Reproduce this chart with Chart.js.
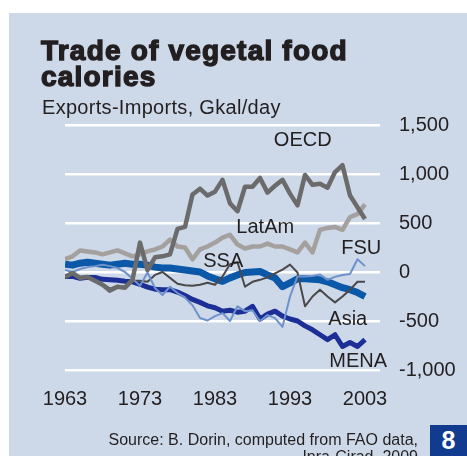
<!DOCTYPE html>
<html>
<head>
<meta charset="utf-8">
<script src="https://cdn.jsdelivr.net/npm/chart.js@4"></script>
<style>
  html, body { margin: 0; padding: 0; background: #ffffff; overflow: hidden; }
  #wrap { position: relative; width: 467px; height: 456px; overflow: hidden; }
  #panel { position: absolute; left: 9px; top: 13px; width: 458px; height: 443px; background: #cdd8e9; }
  #chart { position: absolute; left: 0; top: 0; }
  .txt { position: absolute; font-family: "Liberation Sans", Arial, sans-serif; color: #231f20; white-space: nowrap; }
  #title { left: 41px; top: 38px; font-size: 28px; line-height: 26px; font-weight: bold; letter-spacing: 1.2px; -webkit-text-stroke: 1.4px #231f20; }
  #subtitle { left: 42px; top: 97px; font-size: 20px; line-height: 20px; letter-spacing: 0.3px; }
  #source { right: 49px; top: 431px; font-size: 16px; line-height: 17px; text-align: right; }
  #pagebox { position: absolute; left: 430px; top: 425px; width: 37px; height: 31px; background: #113b8f; color: #fff;
             font-family: "Liberation Sans", Arial, sans-serif; font-weight: bold; font-size: 25px; line-height: 31px; text-align: center; }
</style>
</head>
<body>
<div id="wrap">
  <div id="panel"></div>
  <canvas id="chart" width="467" height="456"></canvas>
  <div id="title" class="txt">Trade of vegetal food<br>calories</div>
  <div id="subtitle" class="txt">Exports-Imports, Gkal/day</div>
  <div id="source" class="txt">Source: B. Dorin, computed from FAO data,<br>Inra-Cirad, 2009</div>
  <div id="pagebox">8</div>
</div>
<script>
// ---- data (Exports - Imports, Gkal/day) ----
const years = [1963,1964,1965,1966,1967,1968,1969,1970,1971,1972,
               1973,1974,1975,1976,1977,1978,1979,1980,1981,1982,
               1983,1984,1985,1986,1987,1988,1989,1990,1991,1992,
               1993,1994,1995,1996,1997,1998,1999,2000,2001,2002,2003];
const oecd  = [-50,-10,-60,-50,-90,-130,-190,-150,-160,-80,
               300,20,150,160,180,440,460,790,850,780,
               820,940,700,620,870,870,960,810,880,940,
               800,680,990,890,900,860,1020,1090,780,660,540];
const latam = [130,160,220,210,200,180,200,220,190,160,
               180,210,230,260,330,260,250,130,230,260,
               300,350,380,280,240,260,260,290,260,260,
               230,200,300,200,430,450,460,430,560,590,690];
const ssa   = [-40,-20,-55,-55,-85,-120,-170,-140,-150,-90,
               -90,-100,-30,0,-60,-120,-135,-140,-130,-110,
               -130,-45,80,100,-150,-100,-80,-55,-15,25,
               75,-5,-350,-250,-180,-250,-310,-250,-180,-100,-100];
const fsu   = [20,0,30,50,60,75,60,40,0,-70,
               -140,-5,-165,-235,-150,-215,-260,-340,-470,-495,
               -450,-420,-500,-350,-400,-390,-500,-440,-470,-560,
               -250,-45,-45,-40,-25,-80,-50,-30,-20,130,60];
const asia  = [80,70,90,100,90,80,70,80,90,80,
               80,70,50,40,40,30,20,10,0,-40,
               -70,-95,-60,-30,-5,0,5,-30,-60,-150,
               -110,-70,-70,-75,-80,-100,-130,-160,-180,-210,-250];
const mena  = [-45,-45,-65,-55,-55,-75,-80,-85,-95,-100,
               -125,-155,-175,-180,-180,-205,-240,-280,-310,-345,
               -365,-400,-390,-410,-400,-350,-480,-430,-400,-450,
               -480,-500,-550,-590,-640,-690,-640,-760,-720,-760,-690];

const xTickYears  = [1963, 1973, 1983, 1993, 2003];
const yTickValues = [-1000, -500, 0, 500, 1000, 1500];
const yTickLabels = ["-1,000", "-500", "0", "500", "1,000", "1,500"];

// series name labels, anchored in data units (year, value)
const seriesLabels = [
  { text: "OECD",  year: 1994.7, value: 1346 },
  { text: "LatAm", year: 1989.7, value: 459 },
  { text: "SSA",   year: 1984.1, value: 112 },
  { text: "FSU",   year: 2002.5, value: 235 },
  { text: "Asia",  year: 2000.7, value: -485 },
  { text: "MENA",  year: 2002.1, value: -918 }
];

const FONT = '"Liberation Sans", Arial, sans-serif';
const pts = arr => arr.map((v, i) => ({ x: years[i], y: v }));
const line = (label, arr, color, width) => ({
  label, data: pts(arr), borderColor: color, borderWidth: width,
  pointRadius: 0, tension: 0, fill: false,
  borderJoinStyle: 'round', borderCapStyle: 'butt'
});

const labelPlugin = {
  id: 'seriesLabels',
  afterDraw(chart) {
    const { ctx, scales } = chart;
    ctx.save();
    ctx.font = '20px ' + FONT;
    ctx.fillStyle = '#231f20';
    ctx.textAlign = 'center';
    ctx.textBaseline = 'middle';
    seriesLabels.forEach(l => {
      ctx.fillText(l.text, scales.x.getPixelForValue(l.year), scales.y.getPixelForValue(l.value));
    });
    ctx.restore();
  }
};

new Chart(document.getElementById('chart'), {
  type: 'line',
  data: {
    datasets: [
      line('OECD',  oecd,  '#6b6b6b', 4.5),
      line('FSU',   fsu,   '#6d92cb', 2),
      line('SSA',   ssa,   '#4a4848', 2),
      line('LatAm', latam, '#a4a09e', 4.5),
      line('MENA',  mena,  '#1b2f96', 5),
      line('Asia',  asia,  '#0b57a8', 7)
    ]
  },
  options: {
    responsive: false,
    animation: false,
    devicePixelRatio: 1,
    layout: { padding: { left: 65, top: 125, right: 0, bottom: 0 } },
    plugins: { legend: { display: false }, tooltip: { enabled: false }, title: { display: false } },
    scales: {
      x: {
        type: 'linear', min: 1963, max: 2005,
        grid: { display: false, drawTicks: false },
        border: { display: false },
        afterBuildTicks: s => { s.ticks = xTickYears.map(v => ({ value: v })); },
        afterFit: s => { s.height = 86; },
        ticks: {
          padding: 17, color: '#231f20', maxRotation: 0, autoSkip: false,
          font: { family: FONT, size: 20 },
          callback: v => String(v)
        }
      },
      y: {
        position: 'right', min: -1000, max: 1500,
        grid: { color: '#ffffff', lineWidth: 2.5, drawTicks: false },
        border: { display: false },
        afterBuildTicks: s => { s.ticks = yTickValues.map(v => ({ value: v })); },
        afterFit: s => { s.width = 87; },
        ticks: {
          padding: 19, color: '#231f20',
          font: { family: FONT, size: 20 },
          callback: v => yTickLabels[yTickValues.indexOf(v)]
        }
      }
    }
  },
  plugins: [labelPlugin]
});
</script>
</body>
</html>
